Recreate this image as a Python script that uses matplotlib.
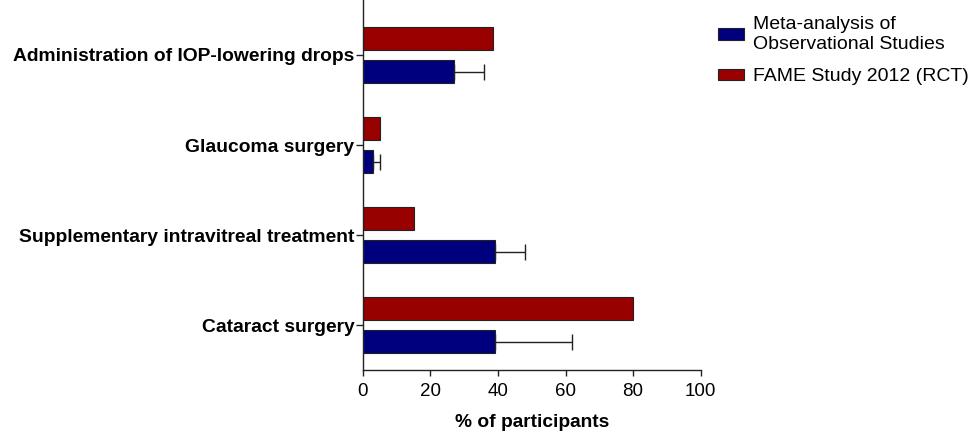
import numpy as np
import matplotlib
matplotlib.use("Agg")
import matplotlib.pyplot as plt
from matplotlib.patches import Patch

plt.rcParams["font.family"] = ["Liberation Sans", "DejaVu Sans"]

# Outcomes, bottom to top
categories = [
    "Cataract surgery",
    "Supplementary intravitreal treatment",
    "Glaucoma surgery",
    "Administration of IOP-lowering drops",
]
meta_values = [39, 39, 3, 27]        # meta-analysis of observational studies
meta_errors = [23, 9, 2, 9]          # upper error only
fame_values = [80, 15, 5, 38.5]      # FAME study 2012 (RCT)

series_labels = ["Meta-analysis of\nObservational Studies", "FAME Study 2012 (RCT)"]
blue = "#00007f"
red = "#990000"

fig = plt.figure(figsize=(9.73, 4.34), dpi=100)
ax = fig.add_axes([0.373, 0.147, 0.347, 0.853])

y = np.arange(len(categories))
h = 0.255
off = 0.185

ax.barh(y - off, meta_values, height=h, color=blue, edgecolor="#222222", linewidth=0.8,
        xerr=[np.zeros(len(meta_errors)), meta_errors],
        error_kw=dict(ecolor="#222222", elinewidth=1.0, capsize=5.5, capthick=1.0))
ax.barh(y + off, fame_values, height=h, color=red, edgecolor="#222222", linewidth=0.8)

ax.set_xlim(0, 100)
ax.set_ylim(-0.5, 3.61)
ax.set_xticks([0, 20, 40, 60, 80, 100])
ax.set_yticks(y)
ax.set_yticklabels(categories, fontsize=13.9, fontweight="bold")
ax.tick_params(axis="x", labelsize=13.5, length=4, width=1.0, color="#222222", pad=5)
ax.tick_params(axis="y", length=5, width=1.0, color="#222222", pad=1)
ax.set_xlabel("% of participants", fontsize=13.8, fontweight="bold", labelpad=10)

for side in ["top", "right"]:
    ax.spines[side].set_visible(False)
for side in ["left", "bottom"]:
    ax.spines[side].set_linewidth(1.0)
    ax.spines[side].set_color("#222222")

handles = [Patch(facecolor=blue, edgecolor="#222222", linewidth=0.8),
           Patch(facecolor=red, edgecolor="#222222", linewidth=0.8)]
fig.legend(handles, series_labels, loc="upper left", bbox_to_anchor=(0.72, 1.003),
           frameon=False, fontsize=14, handlelength=1.35, handleheight=0.55,
           handletextpad=0.45, labelspacing=0.8)

fig.savefig("out.png", dpi=100)
